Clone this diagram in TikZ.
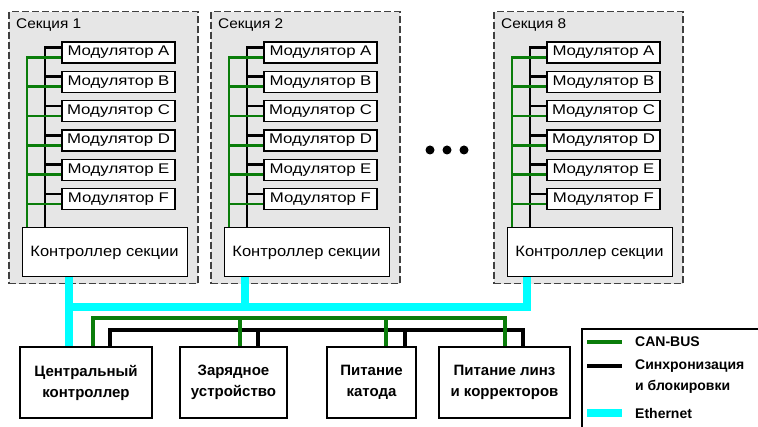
\documentclass[tikz,border=0pt]{standalone}
\usepackage{fontspec}
\setmainfont{Liberation Sans}
\newfontfamily\modf[FakeStretch=1.2]{Liberation Sans}
\newfontfamily\ctlf[FakeStretch=1.1]{Liberation Sans}
\usetikzlibrary{calc}
\definecolor{secgray}{HTML}{E6E6E6}
\definecolor{dashgray}{HTML}{404040}
\definecolor{cangreen}{HTML}{0A7D0A}
\definecolor{ethcyan}{HTML}{00FFFF}
\begin{document}
\begin{tikzpicture}[x=1pt,y=-1pt,
  secbox/.style={draw=dashgray, fill=secgray, line width=1.5pt, dash pattern=on 7pt off 3pt, anchor=north west, inner sep=0pt, minimum width=189pt, minimum height=272pt},
  seclabel/.style={anchor=west, inner sep=0pt, font=\ctlf\fontsize{14}{16}\selectfont},
  modbox/.style={draw, fill=white, line width=1.3pt, minimum width=113pt, minimum height=21pt, inner sep=0pt, font=\modf\fontsize{14}{16}\selectfont},
  ctlbox/.style={draw, fill=white, line width=1pt, minimum width=165pt, minimum height=49pt, inner sep=0pt, font=\ctlf\fontsize{15}{17}\selectfont},
  mainbox/.style={draw, fill=white, line width=2.4pt, minimum height=71pt, inner sep=0pt, align=center, font=\bfseries\fontsize{15}{21}\selectfont},
  legtext/.style={anchor=west, inner sep=0pt, align=left, font=\bfseries\fontsize{14}{21}\selectfont},
  blk/.style={line width=2.6pt, black},
  grn/.style={line width=2.6pt, cangreen},
  bblk/.style={line width=3.4pt, black},
  bgrn/.style={line width=3.4pt, cangreen},
  eth/.style={line width=8pt, ethcyan},
  dot/.style={circle, fill=black, inner sep=0pt, minimum size=9pt}
]
\useasboundingbox (0,0) rectangle (758,427);

\foreach \s/\o in {1/0,2/202,8/485}{
  \node[secbox] (sec-\s) at (8+\o,11) {};
  \node[seclabel] (lab-\s) at (16+\o,25) {Секция \s};
  \foreach \L [count=\i from 0] in {A,B,C,D,E,F}{
    \node[modbox] (m-\s-\L) at (118.5+\o,52.5+29.3*\i) {Модулятор \L};
  }
  \node[ctlbox] (ctl-\s) at (104.5+\o,252.5) {Контроллер секции};
  \coordinate (bk-\s) at (45+\o,0);
  \coordinate (gr-\s) at (27+\o,0);
  \foreach \L in {A,B,C,D,E,F}{
    \coordinate (bs-\s-\L) at ([yshift=5pt]m-\s-\L.west);
    \coordinate (gs-\s-\L) at ([yshift=-5pt]m-\s-\L.west);
  }
  \draw[blk] (bs-\s-A) -| (ctl-\s.north -| bk-\s);
  \draw[grn] (gs-\s-A) -| (ctl-\s.north -| gr-\s);
  \foreach \L in {B,C,D,E,F}{
    \draw[blk] (bs-\s-\L) -- (bs-\s-\L -| bk-\s);
    \draw[grn] (gs-\s-\L) -- (gs-\s-\L -| gr-\s);
  }
}

% ellipsis
\node[dot] (d1) at (430,150) {};
\node[dot] (d2) at (447,150) {};
\node[dot] (d3) at (464,150) {};

% bottom boxes
\node[mainbox, minimum width=132pt] (cc) at (86,382.5) {Центральный\\контроллер};
\node[mainbox, minimum width=107pt] (zar) at (233.5,382.5) {Зарядное\\устройство};
\node[mainbox, minimum width=89pt] (kat) at (371.5,382.5) {Питание\\катода};
\node[mainbox, minimum width=131pt] (lin) at (504.5,382.5) {Питание линз\\и корректоров};

% Ethernet
\coordinate (e1) at (69,307);
\coordinate (e2) at (245,307);
\coordinate (e8) at (527,307);
\draw[eth] (ctl-1.south -| e1) -- (cc.north -| e1);
\draw[eth] (ctl-2.south -| e2) -- (e2);
\draw[eth] (ctl-8.south -| e8) -- (e8) -- (e1);

% sync / interlock bus
\coordinate (k1) at (110,330);
\coordinate (k2) at (258,330);
\coordinate (k3) at (405,330);
\coordinate (k4) at (523,330);
\draw[bblk] (cc.north -| k1) -- (k1) -- (k4) -- (lin.north -| k4);
\draw[bblk] (zar.north -| k2) -- (k2);
\draw[bblk] (kat.north -| k3) -- (k3);

% CAN bus
\coordinate (g1) at (93,318);
\coordinate (g2) at (240,318);
\coordinate (g3) at (386,318);
\coordinate (g4) at (505,318);
\draw[bgrn] (cc.north -| g1) -- (g1) -- (g4) -- (lin.north -| g4);
\draw[bgrn] (zar.north -| g2) -- (g2);
\draw[bgrn] (kat.north -| g3) -- (g3);

% legend
\draw[line width=2.4pt] (582,428) -- (582,329) -- (759,329);
\coordinate (l1a) at (587,342); \coordinate (l1b) at (622,342);
\coordinate (l2a) at (587,366); \coordinate (l2b) at (622,366);
\coordinate (l3a) at (587,413); \coordinate (l3b) at (622,413);
\draw[bgrn] (l1a) -- (l1b);
\draw[bblk] (l2a) -- (l2b);
\draw[eth] (l3a) -- (l3b);
\node[legtext] (t1) at (635,342) {CAN-BUS};
\node[legtext] (t2) at (635,376.5) {Синхронизация\\и блокировки};
\node[legtext] (t3) at (635,413) {Ethernet};
\end{tikzpicture}
\end{document}
